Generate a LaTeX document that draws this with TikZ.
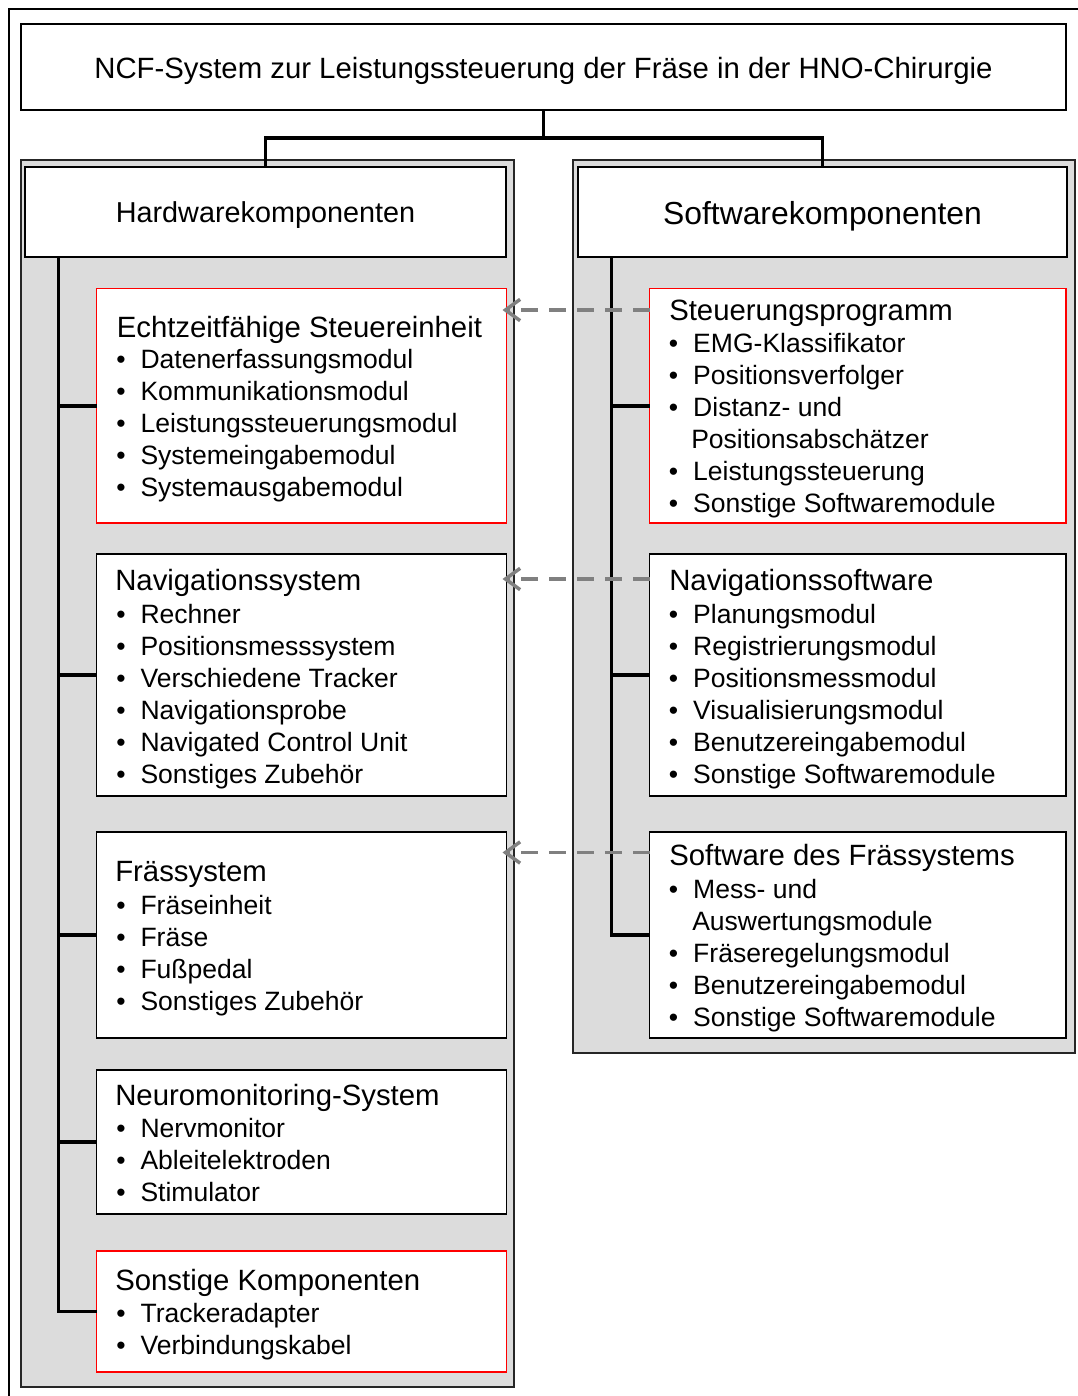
\documentclass[tikz,border=0pt]{standalone}
\usepackage{fontspec}
\setmainfont{Liberation Sans}
\usetikzlibrary{arrows.meta,calc}

\definecolor{panelgray}{HTML}{DCDCDC}
\definecolor{linkgray}{HTML}{808080}

\tikzset{
  panel/.style={draw=black!85, line width=1.4pt, fill=panelgray},
  plainbox/.style={draw=black, line width=1.3pt, fill=white},
  redbox/.style={draw=red, line width=1.3pt, fill=white},
  tree/.style={line width=2.6pt},
  link/.style={draw=linkgray, line width=2.6pt, dash pattern=on 12.5pt off 8.5pt,
               -{Straight Barb[length=11pt,width=16pt]}, shorten >=-3pt},
  headtxt/.style={anchor=base west, inner sep=0pt, font=\fontsize{22}{26}\selectfont},
  itemtxt/.style={anchor=base west, inner sep=0pt, font=\fontsize{19.9}{24}\selectfont},
}

% rectangle node from corner (x1,y1) to (x2,y2)
\newcommand\boxat[6]{%
  \node[#2, minimum width={(#5-#3)*0.75pt}, minimum height={(#6-#4)*0.75pt},
        inner sep=0pt, outer sep=0pt] (#1) at ({(#3+#5)/2},{(#4+#6)/2}) {};}
% box heading and bullet entries
\newcommand\btitle[4]{\node[headtxt] (#1) at (#2,#3) {#4};}
\newcommand\bitem[4]{\node[itemtxt] (#1) at (#2,#3) {\makebox[18.2pt][l]{\textbullet}#4};}
\newcommand\bcont[4]{\node[itemtxt] (#1) at (#2,#3) {#4};}

\begin{document}
\begin{tikzpicture}[x=0.75pt,y=-0.75pt]
\useasboundingbox (0,0) rectangle (1078,1396);
\fill[white] (0,0) rectangle (1078,1396);

% outer frame
\draw[line width=1.5pt] (9,1396) -- (9,9) -- (1078,9);

% title
\boxat{title}{plainbox}{21}{24}{1066}{110}
\node[anchor=base, inner sep=0pt, font=\fontsize{22}{26}\selectfont] (titletxt) at (543.5,78)
  {NCF-System zur Leistungssteuerung der Fräse in der HNO-Chirurgie};

% grey panels
\boxat{hwpanel}{panel}{20.7}{160}{513.6}{1386.7}
\boxat{swpanel}{panel}{573.3}{160}{1075}{1053}

% column headers
\boxat{hw}{plainbox}{25.3}{167}{506}{257.3}
\boxat{sw}{plainbox}{578}{167}{1067.3}{257.3}
\node[anchor=base, inner sep=0pt, font=\fontsize{21.6}{26}\selectfont] (hwtxt) at (265.5,222.7) {Hardwarekomponenten};
\node[anchor=base, inner sep=0pt, font=\fontsize{23.9}{28}\selectfont] (swtxt) at (822.5,224.5) {Softwarekomponenten};

% connectors title -> headers
\draw[tree] (title.south) -- ++(0,28) coordinate (split) -| (hw.north);
\draw[tree] (split) -| (sw.north);

% hardware boxes
\boxat{echt}{redbox}{96.5}{288.5}{506.5}{523.3}
\boxat{navsys}{plainbox}{96.5}{554}{506.5}{796}
\boxat{fraes}{plainbox}{96.5}{831.7}{506.5}{1038.3}
\boxat{neuro}{plainbox}{96.5}{1070}{506.5}{1214.3}
\boxat{sonst}{redbox}{96.5}{1251}{506.5}{1372}

% software boxes
\boxat{steuer}{redbox}{649.5}{288.5}{1066}{523.3}
\boxat{navsw}{plainbox}{649.5}{554}{1066}{796}
\boxat{fraessw}{plainbox}{649.5}{831.7}{1066}{1038.3}

% tree lines
\coordinate (hwtrunk) at (58.5,257.3);
\coordinate (swtrunk) at (611.5,257.3);
\draw[tree] (hwtrunk) |- (sonst.west);
\foreach \b in {echt,navsys,fraes,neuro} \draw[tree] (\b.west -| hwtrunk) -- (\b.west);
\draw[tree] (swtrunk) |- (fraessw.west);
\foreach \b in {steuer,navsw} \draw[tree] (\b.west -| swtrunk) -- (\b.west);

% Echtzeitfähige Steuereinheit
\btitle{echt0}{116.5}{337}{Echtzeitfähige Steuereinheit}
\bitem{echt1}{116}{368}{Datenerfassungsmodul}
\bitem{echt2}{116}{400}{Kommunikationsmodul}
\bitem{echt3}{116}{432}{Leistungssteuerungsmodul}
\bitem{echt4}{116}{464}{Systemeingabemodul}
\bitem{echt5}{116}{496}{Systemausgabemodul}

% Navigationssystem
\btitle{navsys0}{115}{590.5}{Navigationssystem}
\bitem{navsys1}{116}{623.5}{Rechner}
\bitem{navsys2}{116}{655.5}{Positionsmesssystem}
\bitem{navsys3}{116}{687.5}{Verschiedene Tracker}
\bitem{navsys4}{116}{719.5}{Navigationsprobe}
\bitem{navsys5}{116}{751.5}{Navigated Control Unit}
\bitem{navsys6}{116}{783.5}{Sonstiges Zubehör}

% Frässystem
\btitle{fraes0}{115}{881.7}{Frässystem}
\bitem{fraes1}{116}{914}{Fräseinheit}
\bitem{fraes2}{116}{946}{Fräse}
\bitem{fraes3}{116}{978}{Fußpedal}
\bitem{fraes4}{116}{1010}{Sonstiges Zubehör}

% Neuromonitoring-System
\btitle{neuro0}{115}{1105}{Neuromonitoring-System}
\bitem{neuro1}{116}{1137.7}{Nervmonitor}
\bitem{neuro2}{116}{1169.7}{Ableitelektroden}
\bitem{neuro3}{116}{1201.7}{Stimulator}

% Sonstige Komponenten
\btitle{sonst0}{115}{1290.7}{Sonstige Komponenten}
\bitem{sonst1}{116}{1322.7}{Trackeradapter}
\bitem{sonst2}{116}{1354.5}{Verbindungskabel}

% Steuerungsprogramm
\btitle{steuer0}{669}{320.7}{Steuerungsprogramm}
\bitem{steuer1}{668.7}{352.7}{EMG-Klassifikator}
\bitem{steuer2}{668.7}{384.7}{Positionsverfolger}
\bitem{steuer3}{668.7}{416.7}{Distanz- und}
\bcont{steuer3b}{691}{448.7}{Positionsabschätzer}
\bitem{steuer4}{668.7}{480.7}{Leistungssteuerung}
\bitem{steuer5}{668.7}{512.7}{Sonstige Softwaremodule}

% Navigationssoftware
\btitle{navsw0}{669}{590.5}{Navigationssoftware}
\bitem{navsw1}{668.7}{623.5}{Planungsmodul}
\bitem{navsw2}{668.7}{655.5}{Registrierungsmodul}
\bitem{navsw3}{668.7}{687.5}{Positionsmessmodul}
\bitem{navsw4}{668.7}{719.5}{Visualisierungsmodul}
\bitem{navsw5}{668.7}{751.5}{Benutzereingabemodul}
\bitem{navsw6}{668.7}{783.5}{Sonstige Softwaremodule}

% Software des Frässystems
\btitle{fraessw0}{669}{865}{Software des Frässystems}
\bitem{fraessw1}{668.7}{898}{Mess- und}
\bcont{fraessw1b}{692}{930}{Auswertungsmodule}
\bitem{fraessw2}{668.7}{962}{Fräseregelungsmodul}
\bitem{fraessw3}{668.7}{994}{Benutzereingabemodul}
\bitem{fraessw4}{668.7}{1026}{Sonstige Softwaremodule}

% software -> hardware links
\coordinate (l1) at (0,310);
\coordinate (l2) at (0,579);
\coordinate (l3) at (0,852.5);
\draw[link] (steuer.west |- l1) -- (echt.east |- l1);
\draw[link] (navsw.west |- l2) -- (navsys.east |- l2);
\draw[link] (fraessw.west |- l3) -- (fraes.east |- l3);
\end{tikzpicture}
\end{document}
